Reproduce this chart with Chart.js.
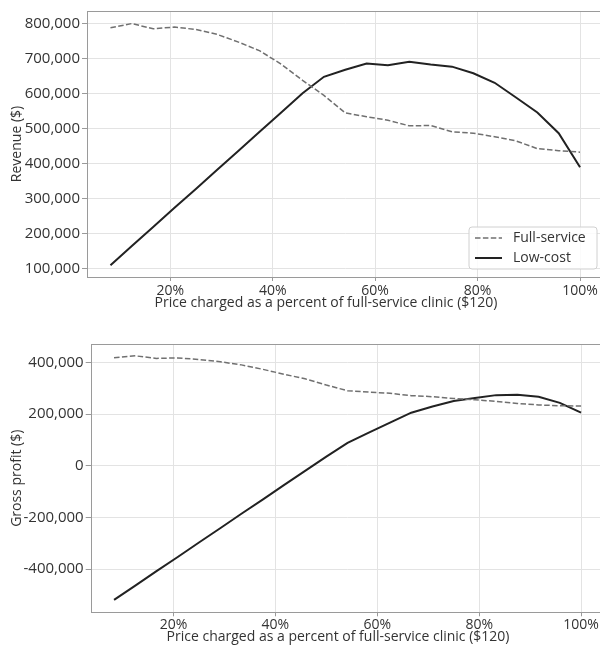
<!DOCTYPE html>
<html>
<head>
<meta charset="utf-8">
<script src="https://cdn.jsdelivr.net/npm/chart.js@4.4.0/dist/chart.umd.min.js"></script>
<style>
  html, body { margin: 0; padding: 0; background: #fff; overflow: hidden; width: 600px; height: 648px; }
  #c1 { position: absolute; left: 0; top: 0; }
  #c2 { position: absolute; left: 0; top: 330px; }
</style>
</head>
<body>
<canvas id="c1" width="612" height="320" style="width:612px;height:320px"></canvas>
<canvas id="c2" width="612" height="318" style="width:612px;height:318px"></canvas>
<script>
// Price charged by the low-cost clinic ($), full-service clinic charges $120
const prices = [10,15,20,25,30,35,40,45,50,55,60,65,70,75,80,85,90,95,100,105,110,115,120];
const fullPrice = 120;

// Revenue ($)
const revenueFull = [788000,800000,785000,790000,783000,769000,747000,722000,684000,638000,595000,545000,534000,524000,508000,509000,491000,487000,477000,465000,443000,437000,433000];
const revenueLow  = [110000,165000,219000,274000,328000,383000,437000,492000,546000,601000,648000,668000,686000,681000,691000,683000,677000,658000,631000,589000,546000,487000,390000];

// Gross profit ($)
const profitFull = [418000,425000,415000,417000,411000,402000,390000,373000,354000,336000,312000,290000,285000,280000,271000,267000,260000,255000,249000,241000,235000,232000,231000];
const profitLow  = [-519000,-464000,-408000,-353000,-297000,-242000,-186000,-131000,-75000,-20000,35000,88000,128000,167000,205000,229000,250000,262000,273000,274000,267000,243000,205000];

const seriesNames = ['Full-service', 'Low-cost'];
const xTicks = [20, 40, 60, 80, 100];
const revenueTicks = [100000,200000,300000,400000,500000,600000,700000,800000];
const profitTicks = [-400000,-200000,0,200000,400000];
const xTitle = 'Price charged as a percent of full-service clinic ($120)';

const FONT = "'Open Sans', 'Noto Sans', sans-serif";
const GRID = '#e3e3e3';
const SPINE = '#9a9a9a';
const TEXT = '#333333';
const FULL_COLOR = '#707070';
const LOW_COLOR = '#222222';

const pct = prices.map(p => p / fullPrice * 100);
const toPts = (vals) => vals.map((v, i) => ({ x: pct[i], y: v }));

const framePlugin = {
  id: 'frame',
  afterDraw(chart, args, opts) {
    const { ctx, chartArea: a } = chart;
    ctx.save();
    ctx.strokeStyle = SPINE;
    ctx.lineWidth = 1;
    ctx.strokeRect(Math.round(a.left) + 0.5, Math.round(a.top) + 0.5, Math.round(a.right - a.left), Math.round(a.bottom - a.top));
    // x-axis title (real text), placed as in the reference
    ctx.fillStyle = TEXT;
    ctx.font = "14px " + FONT;
    ctx.textAlign = 'center';
    ctx.textBaseline = 'middle';
    ctx.fillText(xTitle, opts.titleX, opts.titleY);
    ctx.restore();
  }
};

const legendPlugin = {
  id: 'boxLegend',
  afterDraw(chart, args, opts) {
    if (!opts.show) return;
    const { ctx, chartArea: a } = chart;
    const right = a.right - 6.5, bottom = a.bottom - 8;
    const w = 128, h = 42;
    const x0 = right - w, y0 = bottom - h;
    ctx.save();
    ctx.beginPath();
    const r = 3;
    ctx.moveTo(x0 + r, y0);
    ctx.arcTo(x0 + w, y0, x0 + w, y0 + h, r);
    ctx.arcTo(x0 + w, y0 + h, x0, y0 + h, r);
    ctx.arcTo(x0, y0 + h, x0, y0, r);
    ctx.arcTo(x0, y0, x0 + w, y0, r);
    ctx.closePath();
    ctx.fillStyle = 'rgba(255,255,255,0.85)';
    ctx.fill();
    ctx.strokeStyle = '#d0d0d0';
    ctx.lineWidth = 1;
    ctx.stroke();
    chart.data.datasets.forEach((ds, i) => {
      const cy = y0 + 11 + i * 20;
      ctx.beginPath();
      ctx.setLineDash(ds.borderDash || []);
      ctx.strokeStyle = ds.borderColor;
      ctx.lineWidth = ds.borderWidth;
      ctx.moveTo(x0 + 6, cy);
      ctx.lineTo(x0 + 33, cy);
      ctx.stroke();
      ctx.setLineDash([]);
      ctx.fillStyle = TEXT;
      ctx.font = "14px " + FONT;
      ctx.textBaseline = 'middle';
      ctx.textAlign = 'left';
      ctx.fillText(ds.label, x0 + 44, cy + 0.5);
    });
    ctx.restore();
  }
};

function makeChart(id, full, low, yTicks, yTitle, geo, showLegend) {
  return new Chart(document.getElementById(id), {
    type: 'line',
    data: {
      datasets: [
        { label: seriesNames[0], data: toPts(full), borderColor: FULL_COLOR, borderWidth: 1.5, borderDash: [5.5, 2.4], pointRadius: 0, tension: 0, fill: false },
        { label: seriesNames[1], data: toPts(low), borderColor: LOW_COLOR, borderWidth: 2, pointRadius: 0, tension: 0, fill: false }
      ]
    },
    options: {
      responsive: false,
      animation: false,
      events: [],
      layout: { padding: { top: geo.top, right: geo.right, left: 0, bottom: 0 } },
      plugins: {
        legend: { display: false }, tooltip: { enabled: false },
        boxLegend: { show: showLegend },
        frame: { titleX: geo.titleX, titleY: geo.titleY }
      },
      scales: {
        x: {
          type: 'linear',
          min: 3.75, max: 104.58,
          afterBuildTicks: s => { s.ticks = xTicks.map(v => ({ value: v })); },
          afterFit: s => { s.height = geo.xh; },
          ticks: { callback: v => v + '%', color: TEXT, font: { family: FONT, size: 14 }, padding: geo.xtp, maxRotation: 0, autoSkip: false },
          grid: { color: GRID, lineWidth: 1, tickLength: 4, tickColor: SPINE },
          border: { display: false },
          title: { display: false }
        },
        y: {
          min: geo.ymin, max: geo.ymax,
          afterBuildTicks: s => { s.ticks = yTicks.map(v => ({ value: v })); },
          afterFit: s => { s.width = geo.yw; },
          ticks: { callback: v => v.toLocaleString('en-US'), color: TEXT, font: { family: FONT, size: 15 }, padding: 2, autoSkip: false },
          grid: { color: GRID, lineWidth: 1, tickLength: 5, tickColor: SPINE },
          border: { display: false },
          title: { display: true, text: yTitle, color: TEXT, font: { family: FONT, size: 14 }, padding: { top: 9, bottom: 0 } }
        }
      }
    },
    plugins: [framePlugin, legendPlugin]
  });
}

makeChart('c1', revenueFull, revenueLow, revenueTicks, 'Revenue ($)',
  { top: 8, right: 8.5, xh: 43, yw: 87, ymin: 76600, ymax: 835800, xtp: 2, titleX: 326, titleY: 303 }, true);
makeChart('c2', profitFull, profitLow, profitTicks, 'Gross profit ($)',
  { top: 14.3, right: 7.6, xh: 35.7, yw: 90.7, ymin: -567000, ymax: 469600, xtp: 0, titleX: 338, titleY: 307 }, false);
</script>
</body>
</html>
